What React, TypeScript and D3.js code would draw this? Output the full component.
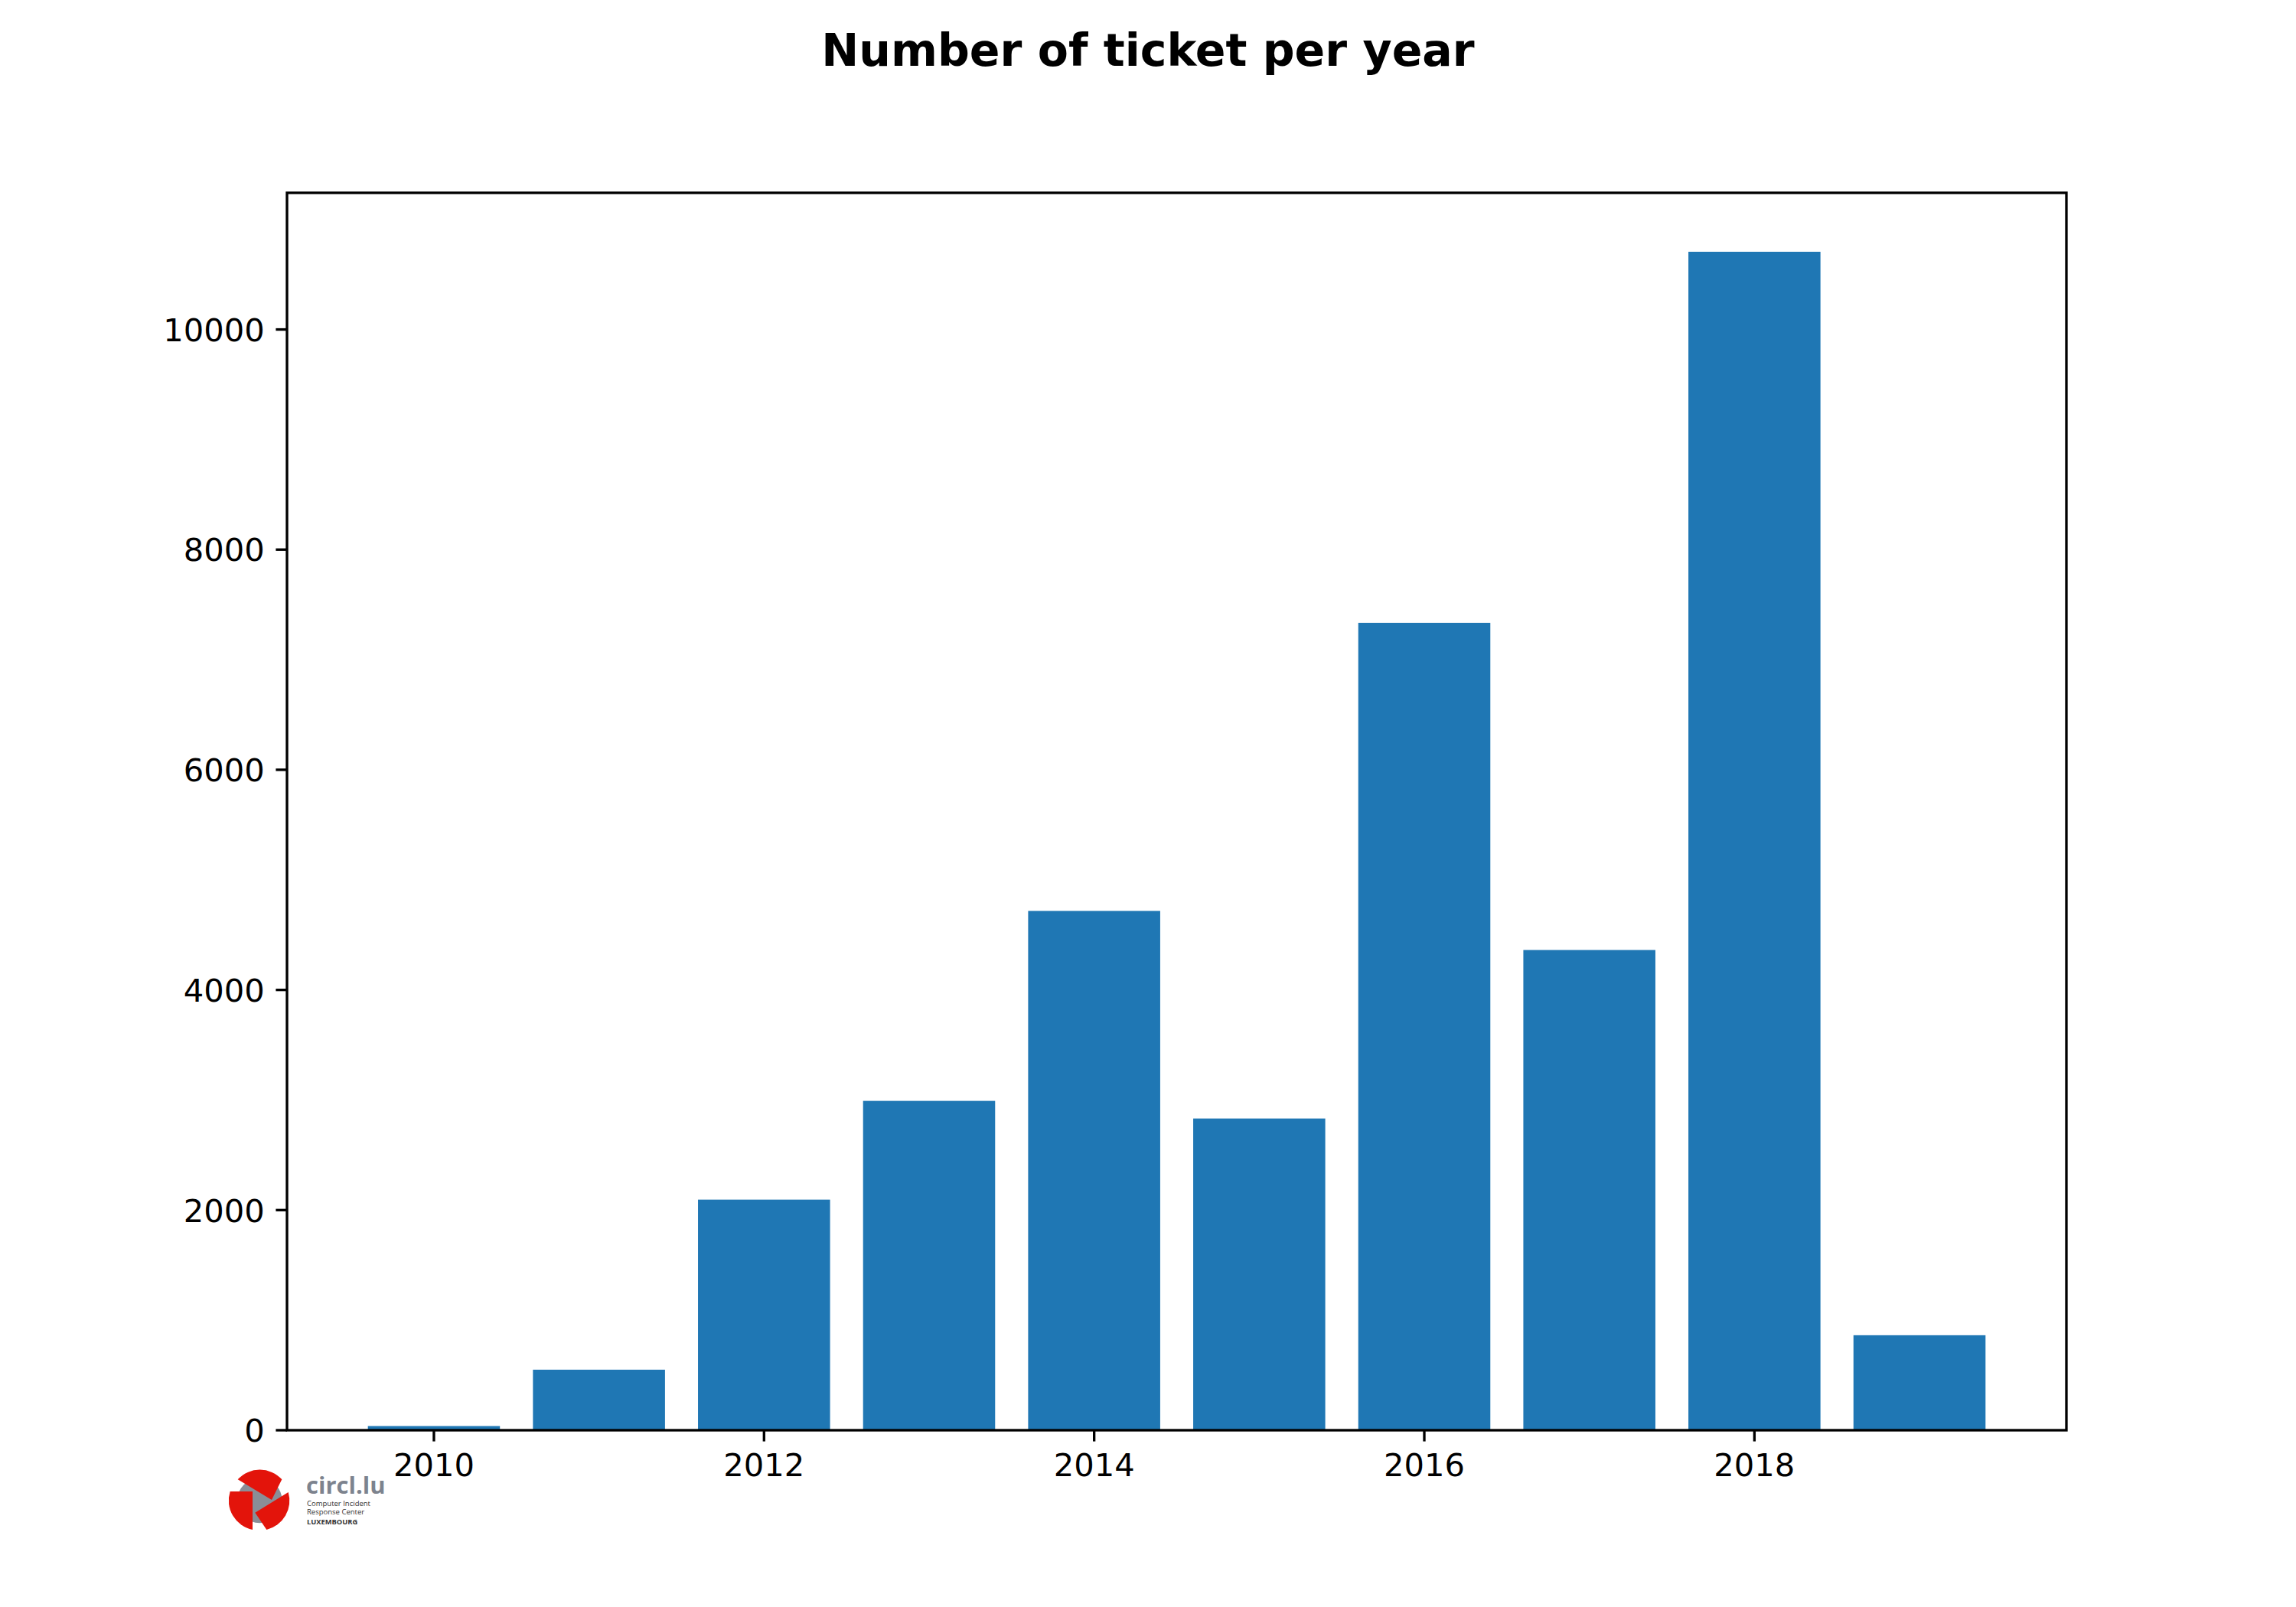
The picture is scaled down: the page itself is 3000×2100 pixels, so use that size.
import React from "react";
import * as d3 from "d3";

const years = [2010, 2011, 2012, 2013, 2014, 2015, 2016, 2017, 2018, 2019];
const tickets = [38, 550, 2095, 2992, 4718, 2832, 7335, 4363, 10706, 863];
const xTicks = [2010, 2012, 2014, 2016, 2018];
const yTicks = [0, 2000, 4000, 6000, 8000, 10000];
const title = "Number of ticket per year";

const W = 3000;
const H = 2100;
const left = 375, right = 2700, top = 252, bottom = 1869;
const barWidth = 0.8;
const FONT = "DejaVu Sans, sans-serif";

function Logo() {
  // circl.lu logo (decoration), local coords relative to (280,1880)
  const s = 1 / 3;
  const red = "#e3140b";
  const gray = "#8a8e97";
  const cx = 178, cy = 243, R = 117;
  const arcTo = (x2: number, y2: number) => `A ${R} ${R} 0 0 1 ${x2} ${y2}`;
  return (
    <g transform={`translate(280,1880) scale(${s})`}>
      <circle cx={cx} cy={cy} r={88} fill={gray} />
      <path d={`M 92 160 ${arcTo(265, 160)} L 225 240 Z`} fill={red} />
      <path d={`M 62 207 L 150 207 L 150 357 ${arcTo(62, 207)} Z`} fill={red} />
      <path d={`M 160 290 L 290 210 ${arcTo(205, 357)} Z`} fill={red} />
      <text x={360} y={216} fontFamily="Open Sans, sans-serif" fontWeight={700} fontSize={93} fill="#7d838e">circl.lu</text>
      <text x={363} y={264} fontFamily="Open Sans, sans-serif" fontSize={28.5} fill="#333">Computer Incident</text>
      <text x={363} y={298} fontFamily="Open Sans, sans-serif" fontSize={28.5} fill="#333">Response Center</text>
      <text x={363} y={337} fontFamily="Open Sans, sans-serif" fontWeight={700} fontSize={28} fill="#333">LUXEMBOURG</text>
    </g>
  );
}

export default function App() {
  const xMin = d3.min(years)! - barWidth / 2;
  const xMax = d3.max(years)! + barWidth / 2;
  const pad = (xMax - xMin) * 0.05;
  const x = d3.scaleLinear().domain([xMin - pad, xMax + pad]).range([left, right]);
  const yMaxVal = d3.max(tickets)! * 1.05;
  const y = d3.scaleLinear().domain([0, yMaxVal]).range([bottom, top]);

  const tickLen = 14.6;
  const lw = 3.33;
  const fs = 41.67;

  return (
    <div style={{ position: "absolute", left: 0, top: 0 }}>
      <svg width={W} height={H} viewBox={`0 0 ${W} ${H}`} style={{ display: "block", background: "#fff" }}>
        <rect x={0} y={0} width={W} height={H} fill="#fff" />
        <text x={1500} y={86} textAnchor="middle" fontFamily={FONT} fontWeight={700} fontSize={58.5}>{title}</text>
        {years.map((yr, i) => (
          <rect
            key={yr}
            x={x(yr - barWidth / 2)}
            y={y(tickets[i])}
            width={x(yr + barWidth / 2) - x(yr - barWidth / 2)}
            height={y(0) - y(tickets[i])}
            fill="#1f77b4"
          />
        ))}
        <rect x={left} y={top} width={right - left} height={bottom - top} fill="none" stroke="#000" strokeWidth={lw} />
        {xTicks.map((t) => (
          <g key={t}>
            <line x1={x(t)} x2={x(t)} y1={bottom} y2={bottom + tickLen} stroke="#000" strokeWidth={lw} />
            <text x={x(t)} y={bottom + tickLen + 14.6 + 30.6} textAnchor="middle" fontFamily={FONT} fontSize={fs}>{t}</text>
          </g>
        ))}
        {yTicks.map((t) => (
          <g key={t}>
            <line x1={left - tickLen} x2={left} y1={y(t)} y2={y(t)} stroke="#000" strokeWidth={lw} />
            <text x={left - tickLen - 14.6} y={y(t) + 15.2} textAnchor="end" fontFamily={FONT} fontSize={fs}>{t}</text>
          </g>
        ))}
        <Logo />
      </svg>
    </div>
  );
}
